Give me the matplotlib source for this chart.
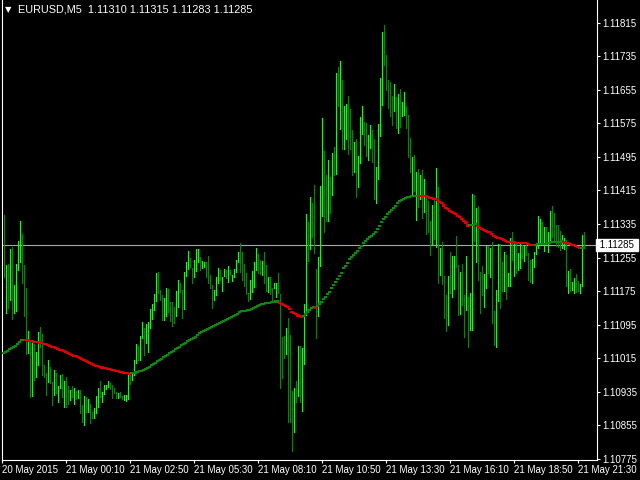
import matplotlib
matplotlib.use("Agg")
import matplotlib.pyplot as plt
import matplotlib.transforms as mtransforms
import numpy as np

# EURUSD M5 bars, 20 May 2015 21:30 .. 21 May 2015 21:40
high = [
    1.11357, 1.11237, 1.11240, 1.11276, 1.11280, 1.11190, 1.11240, 1.11295, 1.11342, 1.11311,
    1.11237, 1.11183, 1.11080, 1.11059, 1.11051, 1.11049, 1.11030, 1.11078, 1.11090, 1.11073,
    1.10999, 1.10980, 1.11011, 1.10994, 1.10959, 1.10987, 1.10980, 1.10949, 1.10975, 1.10978,
    1.10961, 1.10970, 1.10949, 1.10939, 1.10949, 1.10944, 1.10937, 1.10939, 1.10939, 1.10904,
    1.10925, 1.10923, 1.10918, 1.10906, 1.10887, 1.10897, 1.10925, 1.10944, 1.10961, 1.10935,
    1.10951, 1.10951, 1.10961, 1.10956, 1.10951, 1.10944, 1.10935, 1.10932, 1.10935, 1.10925,
    1.10928, 1.10928, 1.10980, 1.10975, 1.10980, 1.11011, 1.11049, 1.11044, 1.11068, 1.11102,
    1.11087, 1.11097, 1.11102, 1.11133, 1.11145, 1.11168, 1.11218, 1.11221, 1.11178, 1.11166,
    1.11159, 1.11183, 1.11180, 1.11149, 1.11149, 1.11137, 1.11175, 1.11202, 1.11195, 1.11178,
    1.11221, 1.11245, 1.11271, 1.11254, 1.11230, 1.11249, 1.11276, 1.11276, 1.11257, 1.11247,
    1.11245, 1.11245, 1.11259, 1.11214, 1.11190, 1.11178, 1.11209, 1.11230, 1.11226, 1.11209,
    1.11228, 1.11226, 1.11235, 1.11226, 1.11214, 1.11228, 1.11249, 1.11268, 1.11290, 1.11268,
    1.11240, 1.11218, 1.11171, 1.11202, 1.11223, 1.11245, 1.11278, 1.11264, 1.11249, 1.11247,
    1.11268, 1.11237, 1.11209, 1.11209, 1.11183, 1.11195, 1.11195, 1.11218, 1.11168, 1.11066,
    1.11068, 1.11087, 1.11111, 1.11071, 1.10937, 1.10944, 1.10961, 1.11044, 1.11044, 1.11040,
    1.11145, 1.11359, 1.11340, 1.11400, 1.11385, 1.11428, 1.11228, 1.11257, 1.11426, 1.11588,
    1.11509, 1.11452, 1.11488, 1.11447, 1.11504, 1.11519, 1.11695, 1.11709, 1.11724, 1.11678,
    1.11616, 1.11621, 1.11640, 1.11609, 1.11559, 1.11531, 1.11538, 1.11497, 1.11590, 1.11616,
    1.11578, 1.11576, 1.11547, 1.11571, 1.11559, 1.11538, 1.11471, 1.11574, 1.11683, 1.11793,
    1.11810, 1.11738, 1.11678, 1.11674, 1.11640, 1.11669, 1.11638, 1.11645, 1.11657, 1.11626,
    1.11650, 1.11616, 1.11595, 1.11540, 1.11495, 1.11500, 1.11459, 1.11466, 1.11452, 1.11464,
    1.11442, 1.11400, 1.11390, 1.11342, 1.11380, 1.11397, 1.11469, 1.11423, 1.11278, 1.11292,
    1.11211, 1.11166, 1.11211, 1.11268, 1.11259, 1.11259, 1.11307, 1.11237, 1.11221, 1.11240,
    1.11166, 1.11259, 1.11161, 1.11171, 1.11407, 1.11404, 1.11373, 1.11378, 1.11221, 1.11235,
    1.11216, 1.11283, 1.11283, 1.11278, 1.11292, 1.11128, 1.11178, 1.11288, 1.11288, 1.11245,
    1.11268, 1.11261, 1.11218, 1.11302, 1.11316, 1.11292, 1.11288, 1.11266, 1.11288, 1.11285,
    1.11283, 1.11292, 1.11266, 1.11249, 1.11252, 1.11268, 1.11285, 1.11354, 1.11347, 1.11340,
    1.11328, 1.11328, 1.11316, 1.11366, 1.11378, 1.11361, 1.11333, 1.11333, 1.11319, 1.11309,
    1.11302, 1.11297, 1.11223, 1.11228, 1.11197, 1.11206, 1.11216, 1.11199, 1.11192, 1.11309,
    1.11315,
]
low = [
    1.11209, 1.11123, 1.11135, 1.11154, 1.11109, 1.11123, 1.11128, 1.11226, 1.11245, 1.11195,
    1.11116, 1.11025, 1.11028, 1.10923, 1.10925, 1.10963, 1.10970, 1.10999, 1.11042, 1.10975,
    1.10970, 1.10928, 1.10959, 1.10956, 1.10904, 1.10928, 1.10932, 1.10911, 1.10944, 1.10923,
    1.10899, 1.10899, 1.10906, 1.10916, 1.10923, 1.10906, 1.10918, 1.10920, 1.10885, 1.10863,
    1.10856, 1.10887, 1.10887, 1.10861, 1.10873, 1.10873, 1.10885, 1.10899, 1.10923, 1.10911,
    1.10930, 1.10942, 1.10947, 1.10942, 1.10920, 1.10932, 1.10920, 1.10920, 1.10923, 1.10918,
    1.10916, 1.10913, 1.10918, 1.10954, 1.10963, 1.10975, 1.11004, 1.11011, 1.11011, 1.11063,
    1.11023, 1.11051, 1.11030, 1.11087, 1.11109, 1.11130, 1.11152, 1.11171, 1.11154, 1.11106,
    1.11106, 1.11116, 1.11125, 1.11104, 1.11092, 1.11099, 1.11116, 1.11137, 1.11173, 1.11111,
    1.11133, 1.11211, 1.11228, 1.11233, 1.11195, 1.11209, 1.11223, 1.11245, 1.11226, 1.11230,
    1.11233, 1.11209, 1.11195, 1.11183, 1.11135, 1.11154, 1.11166, 1.11195, 1.11202, 1.11175,
    1.11211, 1.11206, 1.11197, 1.11214, 1.11199, 1.11209, 1.11221, 1.11245, 1.11221, 1.11202,
    1.11187, 1.11168, 1.11152, 1.11156, 1.11173, 1.11185, 1.11226, 1.11218, 1.11216, 1.11214,
    1.11195, 1.11175, 1.11173, 1.11168, 1.11154, 1.11183, 1.11161, 1.11171, 1.10944, 1.10968,
    1.11016, 1.11025, 1.10863, 1.10863, 1.10794, 1.10839, 1.10911, 1.10925, 1.10911, 1.10889,
    1.11001, 1.11118, 1.11247, 1.11276, 1.11304, 1.11266, 1.11063, 1.11116, 1.11235, 1.11354,
    1.11316, 1.11342, 1.11342, 1.11361, 1.11404, 1.11452, 1.11454, 1.11616, 1.11562, 1.11514,
    1.11514, 1.11538, 1.11502, 1.11514, 1.11452, 1.11459, 1.11400, 1.11423, 1.11481, 1.11550,
    1.11524, 1.11497, 1.11488, 1.11516, 1.11483, 1.11395, 1.11385, 1.11442, 1.11545, 1.11619,
    1.11714, 1.11655, 1.11612, 1.11593, 1.11571, 1.11605, 1.11564, 1.11552, 1.11566, 1.11593,
    1.11595, 1.11564, 1.11495, 1.11459, 1.11402, 1.11414, 1.11345, 1.11376, 1.11395, 1.11349,
    1.11364, 1.11311, 1.11316, 1.11261, 1.11285, 1.11299, 1.11280, 1.11195, 1.11214, 1.11192,
    1.11111, 1.11080, 1.11094, 1.11171, 1.11161, 1.11180, 1.11233, 1.11118, 1.11121, 1.11142,
    1.11066, 1.11130, 1.11042, 1.11082, 1.11082, 1.11295, 1.11245, 1.11202, 1.11123, 1.11166,
    1.11137, 1.11183, 1.11218, 1.11209, 1.11099, 1.11047, 1.11042, 1.11152, 1.11135, 1.11175,
    1.11175, 1.11156, 1.11187, 1.11187, 1.11249, 1.11211, 1.11218, 1.11226, 1.11230, 1.11254,
    1.11247, 1.11261, 1.11202, 1.11197, 1.11195, 1.11233, 1.11264, 1.11278, 1.11285, 1.11288,
    1.11271, 1.11288, 1.11268, 1.11295, 1.11304, 1.11292, 1.11283, 1.11280, 1.11273, 1.11278,
    1.11276, 1.11187, 1.11171, 1.11175, 1.11178, 1.11171, 1.11173, 1.11175, 1.11171, 1.11187,
    1.11283,
]
# u = bull bar, d = bear bar
bar_dir = (
    "dududuuuud" "ddududuudd" "ddudduduud" "uddudududd" "ududduuudu"
    "uuuddddudd" "uuuduuuduu" "duuuuuuddd" "uudddduudd" "uuudduuudu"
    "udddduuudu" "ududuuuudd" "ddduuuuddu" "ddudduuddd" "dudddududu"
    "uududdduuu" "ddudududud" "uuddduduuu" "dduudduuuu" "dddddududu"
    "udddududud" "udddududud" "dduduuddud" "duduududdd" "uududduudd"
    "uduududuud" "uddduuuuud" "uduudddddu" "ududuudduu" "d"
)
# moving average indicator values
ma = [
    1.110284, 1.110308, 1.110331, 1.110372, 1.110395, 1.110419, 1.110450, 1.110491, 1.110545, 1.110579,
    1.110593, 1.110586, 1.110581, 1.110569, 1.110562, 1.110545, 1.110538, 1.110533, 1.110526, 1.110507,
    1.110491, 1.110483, 1.110467, 1.110443, 1.110427, 1.110419, 1.110395, 1.110372, 1.110355, 1.110343,
    1.110324, 1.110300, 1.110276, 1.110253, 1.110229, 1.110212, 1.110200, 1.110181, 1.110157, 1.110133,
    1.110109, 1.110086, 1.110062, 1.110038, 1.110014, 1.109990, 1.109974, 1.109966, 1.109950, 1.109930,
    1.109923, 1.109918, 1.109902, 1.109895, 1.109871, 1.109864, 1.109847, 1.109840, 1.109823, 1.109816,
    1.109807, 1.109799, 1.109792, 1.109783, 1.109795, 1.109807, 1.109811, 1.109819, 1.109840, 1.109854,
    1.109878, 1.109902, 1.109911, 1.109950, 1.109983, 1.110014, 1.110045, 1.110079, 1.110109, 1.110140,
    1.110174, 1.110205, 1.110236, 1.110269, 1.110300, 1.110331, 1.110364, 1.110395, 1.110427, 1.110460,
    1.110491, 1.110522, 1.110555, 1.110579, 1.110603, 1.110641, 1.110665, 1.110712, 1.110746, 1.110784,
    1.110808, 1.110832, 1.110856, 1.110880, 1.110904, 1.110920, 1.110944, 1.110968, 1.110991, 1.111015,
    1.111046, 1.111070, 1.111094, 1.111118, 1.111142, 1.111165, 1.111189, 1.111213, 1.111247, 1.111270,
    1.111280, 1.111284, 1.111294, 1.111308, 1.111325, 1.111349, 1.111373, 1.111397, 1.111421, 1.111445,
    1.111452, 1.111464, 1.111468, 1.111476, 1.111492, 1.111497, 1.111502, 1.111504, 1.111476, 1.111445,
    1.111421, 1.111397, 1.111366, 1.111318, 1.111261, 1.111223, 1.111201, 1.111170, 1.111154, 1.111142,
    1.111158, 1.111206, 1.111254, 1.111301, 1.111342, 1.111366, 1.111361, 1.111397, 1.111445, 1.111500,
    1.111557, 1.111619, 1.111683, 1.111738, 1.111819, 1.111897, 1.111962, 1.112033, 1.112112, 1.112191,
    1.112296, 1.112358, 1.112430, 1.112511, 1.112558, 1.112613, 1.112654, 1.112715, 1.112772, 1.112834,
    1.112891, 1.112946, 1.112994, 1.113034, 1.113065, 1.113106, 1.113168, 1.113225, 1.113304, 1.113392,
    1.113471, 1.113526, 1.113583, 1.113637, 1.113685, 1.113740, 1.113787, 1.113845, 1.113892, 1.113923,
    1.113947, 1.113964, 1.113988, 1.114002, 1.114021, 1.114023, 1.114026, 1.114028, 1.114023, 1.114021,
    1.114019, 1.114011, 1.113995, 1.113971, 1.113964, 1.113947, 1.113940, 1.113923, 1.113883, 1.113852,
    1.113792, 1.113740, 1.113702, 1.113661, 1.113630, 1.113607, 1.113583, 1.113542, 1.113511, 1.113471,
    1.113430, 1.113387, 1.113315, 1.113320, 1.113327, 1.113337, 1.113342, 1.113311, 1.113263, 1.113239,
    1.113208, 1.113191, 1.113168, 1.113153, 1.113113, 1.113072, 1.113049, 1.113025, 1.113011, 1.113001,
    1.112970, 1.112946, 1.112929, 1.112922, 1.112920, 1.112915, 1.112908, 1.112905, 1.112905, 1.112903,
    1.112900, 1.112891, 1.112875, 1.112858, 1.112851, 1.112848, 1.112858, 1.112868, 1.112872, 1.112875,
    1.112882, 1.112884, 1.112891, 1.112898, 1.112915, 1.112922, 1.112927, 1.112929, 1.112932, 1.112934,
    1.112915, 1.112905, 1.112891, 1.112875, 1.112858, 1.112844, 1.112820, 1.112796, 1.112772, 1.112779,
    1.112786,
]
last_ohlc = [1.11310, 1.11315, 1.11283, 1.11285]
symbol = "EURUSD,M5"
price_ticks = [1.10775, 1.10855, 1.10935, 1.11015, 1.11095, 1.11175, 1.11255,
               1.11335, 1.11415, 1.11495, 1.11575, 1.11655, 1.11735, 1.11815]
time_labels = ["20 May 2015", "21 May 00:10", "21 May 02:50", "21 May 05:30",
               "21 May 08:10", "21 May 10:50", "21 May 13:30", "21 May 16:10",
               "21 May 18:50", "21 May 21:30"]
label_every = 32  # bars between time labels

assert len(high) == len(low) == len(bar_dir) == len(ma)

FONT = ["Liberation Sans", "DejaVu Sans"]
UP, DOWN = "#2ee62e", "#1b761b"
MA_UP, MA_DOWN = "#0b8a0b", "#e00000"
FS = 7.0

fig = plt.figure(figsize=(6.4, 4.8), dpi=100, facecolor="black")
ax = fig.add_axes([2 / 640, 20 / 480, 595 / 640, 460 / 480], facecolor="black")

x = np.arange(len(high))
cols = [UP if d == "u" else DOWN for d in bar_dir]
ax.vlines(x, low, high, colors=cols, linewidth=0.5, antialiased=False)

# MA dots: green while rising, red while falling
ma_cols, cur = [], MA_UP
for i, v in enumerate(ma):
    if i > 0 and v > ma[i - 1]:
        cur = MA_UP
    elif i > 0 and v < ma[i - 1]:
        cur = MA_DOWN
    ma_cols.append(cur)
ax.scatter(x, ma, c=ma_cols, marker="s", s=2.4, linewidths=0, zorder=3)

close = last_ohlc[3]
ax.axhline(close, color="#a3a6ad", lw=0.8, zorder=1)

ax.set_xlim(-0.75, 296.75)
ax.set_ylim(1.107725, 1.118691)

for s in ("left", "right", "bottom"):
    ax.spines[s].set_color("white")
    ax.spines[s].set_linewidth(0.8)
ax.spines["top"].set_visible(False)

ax.yaxis.tick_right()
ax.set_yticks(price_ticks)
ax.set_yticklabels([f"{p:.5f}" for p in price_ticks])
ax.set_xticks([label_every * k - 0.75 for k in range(len(time_labels))])
ax.set_xticklabels(time_labels, ha="left")
ax.tick_params(colors="white", labelsize=FS, length=2.5, width=0.8, pad=1.2)
for t in ax.get_xticklabels() + ax.get_yticklabels():
    t.set_family(FONT)

# current price tag
trans = mtransforms.blended_transform_factory(ax.transAxes, ax.transData)
ax.text(0.004, close, f" {close:.5f} ", transform=trans, va="center", ha="left",
        fontsize=FS, family=FONT, color="black", clip_on=False,
        bbox=dict(boxstyle="square,pad=0.15", fc="white", ec="white"))
ax.texts[-1].set_x(1.0)

fig.text(5 / 640, 1 - 10 / 480, "\u25bc", color="white", fontsize=6,
         family=["DejaVu Sans"], va="center")
fig.text(18 / 640, 1 - 10 / 480,
         f"{symbol}  " + " ".join(f"{v:.5f}" for v in last_ohlc),
         color="white", fontsize=7.8, family=FONT, va="center")

fig.savefig("out.png", dpi=100, facecolor="black")
